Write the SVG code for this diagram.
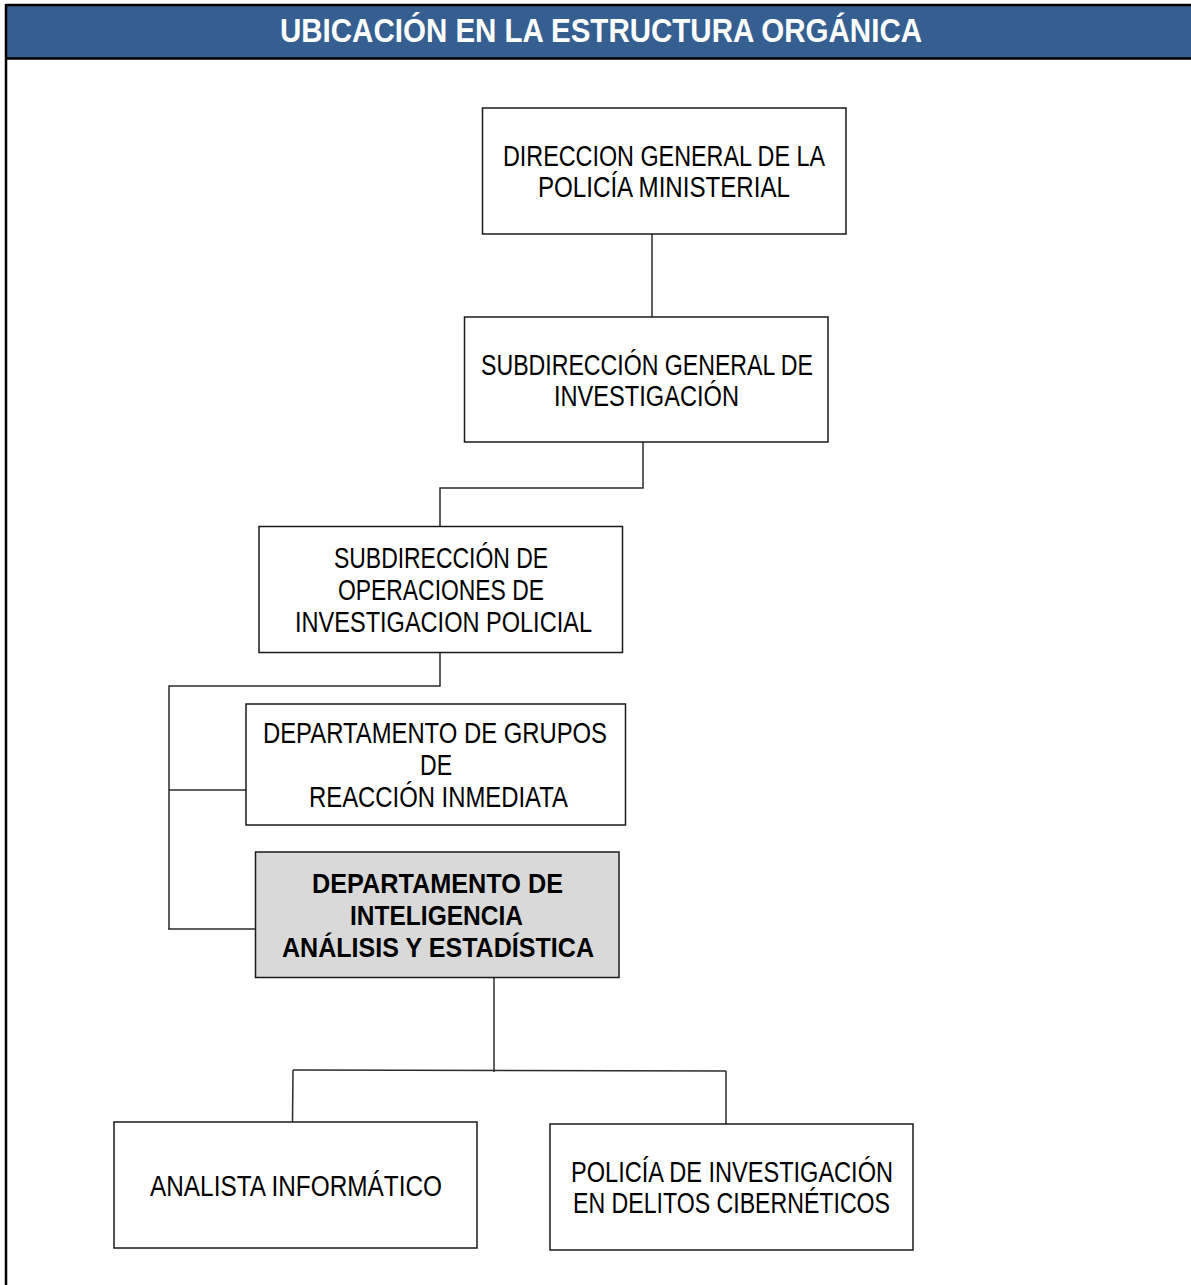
<svg xmlns="http://www.w3.org/2000/svg" width="1191" height="1285" viewBox="0 0 1191 1285">
  <style>
    .box { fill: #ffffff; stroke: #1a1a1a; stroke-width: 1.5; }
    .box-hl { fill: #d9d9d9; stroke: #1a1a1a; stroke-width: 1.5; }
    .lbl { font-family: "Liberation Sans", Arial, sans-serif; font-size: 29px; fill: #000000; text-anchor: middle; }
    .lbl-b { font-family: "Liberation Sans", Arial, sans-serif; font-size: 28px; font-weight: bold; fill: #000000; text-anchor: middle; }
    .conn { fill: none; stroke: #2b2b2b; stroke-width: 1.5; }
    .frame { fill: none; stroke: #000000; stroke-width: 2.5; }
  </style>

  <rect width="1191" height="1285" fill="#ffffff"/>

  <!-- Title band -->
  <g id="title">
    <rect x="6" y="5" width="1185" height="53.5" fill="#365f91"/>
    <path class="frame" d="M6 5 H1191 M6 58.5 H1191 M6 4 V1285"/>
    <text x="601" y="42" font-family="'Liberation Sans', Arial, sans-serif" font-size="33" font-weight="bold" fill="#ffffff" text-anchor="middle" textLength="642" lengthAdjust="spacingAndGlyphs">UBICACIÓN EN LA ESTRUCTURA ORGÁNICA</text>
  </g>

  <!-- Connectors -->
  <g id="connectors">
    <path class="conn" d="M652 234 V317"/>
    <path class="conn" d="M643 442 V488 H440 V526"/>
    <path class="conn" d="M440 652 V686 H169 V929"/>
    <path class="conn" d="M169 790 H246"/>
    <path class="conn" d="M168 929 H256"/>
    <path class="conn" d="M494 977 V1072"/>
    <path class="conn" d="M293 1070 L726 1071"/>
    <path class="conn" d="M293 1070 L292.5 1122"/>
    <path class="conn" d="M726 1071 V1124"/>
  </g>

  <!-- Nodes -->
  <g id="direccion-general">
    <rect class="box" x="482.5" y="108" width="363.5" height="126"/>
    <text class="lbl" x="664" y="166" textLength="322" lengthAdjust="spacingAndGlyphs">DIRECCION GENERAL DE LA</text>
    <text class="lbl" x="664" y="197" textLength="252" lengthAdjust="spacingAndGlyphs">POLICÍA MINISTERIAL</text>
  </g>

  <g id="subdireccion-general">
    <rect class="box" x="464.5" y="317" width="363.5" height="125"/>
    <text class="lbl" x="647" y="375" textLength="332" lengthAdjust="spacingAndGlyphs">SUBDIRECCIÓN GENERAL DE</text>
    <text class="lbl" x="646.5" y="406" textLength="185" lengthAdjust="spacingAndGlyphs">INVESTIGACIÓN</text>
  </g>

  <g id="subdireccion-operaciones">
    <rect class="box" x="259" y="526.5" width="363.5" height="126"/>
    <text class="lbl" x="441" y="568" textLength="214" lengthAdjust="spacingAndGlyphs">SUBDIRECCIÓN DE</text>
    <text class="lbl" x="441" y="600" textLength="206" lengthAdjust="spacingAndGlyphs">OPERACIONES DE</text>
    <text class="lbl" x="443.5" y="632" textLength="297" lengthAdjust="spacingAndGlyphs">INVESTIGACION POLICIAL</text>
  </g>

  <g id="depto-reaccion">
    <rect class="box" x="246" y="704" width="379.5" height="121"/>
    <text class="lbl" x="435" y="743" textLength="344" lengthAdjust="spacingAndGlyphs">DEPARTAMENTO DE GRUPOS</text>
    <text class="lbl" x="436" y="775" textLength="32" lengthAdjust="spacingAndGlyphs">DE</text>
    <text class="lbl" x="438.5" y="807" textLength="259" lengthAdjust="spacingAndGlyphs">REACCIÓN INMEDIATA</text>
  </g>

  <g id="depto-inteligencia">
    <rect class="box-hl" x="255.5" y="852" width="363.5" height="125.5"/>
    <text class="lbl-b" x="437.5" y="893" textLength="251" lengthAdjust="spacingAndGlyphs">DEPARTAMENTO DE</text>
    <text class="lbl-b" x="436.5" y="925" textLength="173" lengthAdjust="spacingAndGlyphs">INTELIGENCIA</text>
    <text class="lbl-b" x="438" y="957" textLength="312" lengthAdjust="spacingAndGlyphs">ANÁLISIS Y ESTADÍSTICA</text>
  </g>

  <g id="analista-informatico">
    <rect class="box" x="114" y="1122" width="363" height="126"/>
    <text class="lbl" x="296" y="1196" textLength="292" lengthAdjust="spacingAndGlyphs">ANALISTA INFORMÁTICO</text>
  </g>

  <g id="policia-ciberneticos">
    <rect class="box" x="550" y="1124" width="363" height="126"/>
    <text class="lbl" x="732" y="1182" textLength="322" lengthAdjust="spacingAndGlyphs">POLICÍA DE INVESTIGACIÓN</text>
    <text class="lbl" x="731.5" y="1213" textLength="317" lengthAdjust="spacingAndGlyphs">EN DELITOS CIBERNÉTICOS</text>
  </g>
</svg>
